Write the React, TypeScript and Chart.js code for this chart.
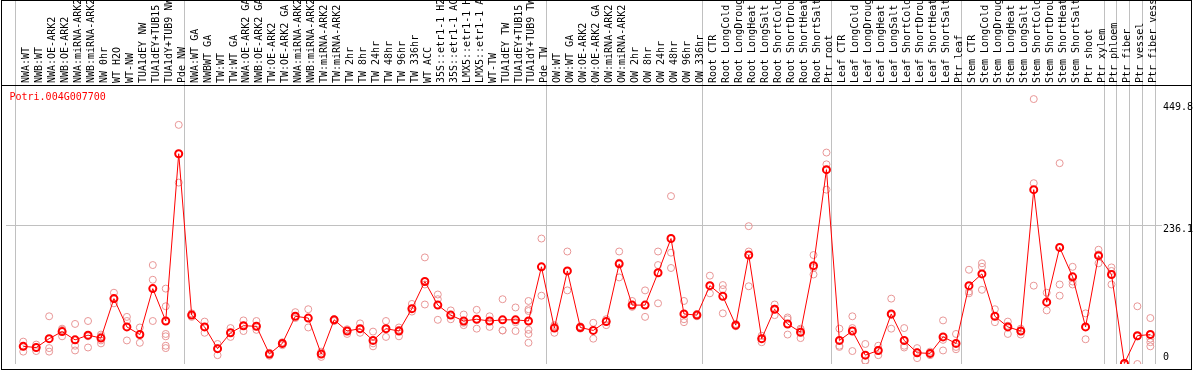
import { useEffect, useRef } from "react";
import { Chart, registerables } from "chart.js";

Chart.register(...registerables);

const geneName = "Potri.004G007700";

const categories = [
  "NWA:WT", "NWB:WT", "NWA:OE-ARK2", "NWB:OE-ARK2", "NWA:miRNA-ARK2", "NWB:miRNA-ARK2",
  "NW 0hr", "WT H2O", "WT-NW", "TUA1dEY NW", "TUA1dEY+TUB15 NW", "TUA1dY+TUB9 NW", "Pde NW",
  "NWA:WT GA", "NWBWT GA", "TW:WT", "TW:WT GA", "NWA:OE-ARK2 GA", "NWB:OE-ARK2 GA",
  "TW:OE-ARK2", "TW:OE-ARK2 GA", "NWA:miRNA-ARK2 GA", "NWB:miRNA-ARK2 GA", "TW:miRNA-ARK2",
  "TW:miRNA-ARK2 GA", "TW 2hr", "TW 8hr", "TW 24hr", "TW 48hr", "TW 96hr", "TW 336hr",
  "WT ACC", "35S::etr1-1 H2O", "35S::etr1-1 ACC", "LMX5::etr1-1 H2O", "LMX5::etr1-1 ACC",
  "WT-TW", "TUA1dEY TW", "TUA1dEY+TUB15 TW", "TUA1dY+TUB9 TW", "Pde TW",
  "OW:WT", "OW:WT GA", "OW:OE-ARK2", "OW:OE-ARK2 GA", "OW:miRNA-ARK2", "OW:miRNA-ARK2 GA",
  "OW 2hr", "OW 8hr", "OW 24hr", "OW 48hr", "OW 96hr", "OW 336hr",
  "Root CTR", "Root LongCold", "Root LongDrought", "Root LongHeat", "Root LongSalt",
  "Root ShortCold", "Root ShortDrought", "Root ShortHeat", "Root ShortSalt", "Ptr root",
  "Leaf CTR", "Leaf LongCold", "Leaf LongDrought", "Leaf LongHeat", "Leaf LongSalt",
  "Leaf ShortCold", "Leaf ShortDrought", "Leaf ShortHeat", "Leaf ShortSalt", "Ptr leaf",
  "Stem CTR", "Stem LongCold", "Stem LongDrought", "Stem LongHeat", "Stem LongSalt",
  "Stem ShortCold", "Stem ShortDrought", "Stem ShortHeat", "Stem ShortSalt", "Ptr shoot",
  "Ptr xylem", "Ptr phloem", "Ptr fiber", "Ptr vessel", "Ptr fiber vessel",
];

const means = [
  30, 28, 43, 55, 41, 49, 44, 111, 63, 50, 128, 73, 357,
  83, 63, 26, 53, 65, 64, 17, 35, 81, 78, 17, 75, 56, 60, 40, 60, 56, 94,
  140, 100, 83, 73, 76, 73, 75, 75, 73, 165,
  61, 158, 62, 57, 72, 170, 100, 100, 155, 213, 85, 83,
  133, 115, 66, 185, 43, 93, 68, 54, 167, 330,
  40, 56, 15, 23, 85, 40, 19, 18, 46, 35,
  133, 153, 81, 63, 56, 296, 105, 198, 148, 63, 184,
  152, 1, 48, 50,
];

const replicates: number[][] = [
  [38, 30, 21], [33, 28, 22], [81, 27, 21], [60, 47, 58], [68, 31, 23], [73, 28, 47],
  [50, 47, 40, 35], [121, 110, 103], [80, 73, 40], [62, 36, 50], [168, 143, 73],
  [128, 98, 51, 47, 31, 27], [406, 357, 308],
  [86, 83, 80], [72, 63, 53], [34, 27, 15], [61, 53, 46], [74, 65, 56], [73, 64, 58],
  [19, 17, 14], [37, 34, 32], [88, 81, 78], [93, 78, 62], [21, 17, 12], [76, 74, 73],
  [59, 56, 51], [69, 59, 53], [55, 35, 30], [73, 59, 46], [62, 58, 47], [102, 94, 89],
  [181, 135, 101], [118, 110, 75], [91, 83, 76], [84, 70, 66], [92, 76, 60],
  [81, 73, 63], [110, 57, 57], [96, 71, 56], [107, 93, 90, 72, 58, 51, 36], [213, 165, 116],
  [66, 64, 53], [191, 158, 125], [64, 62, 60], [70, 57, 43], [76, 72, 66], [191, 172, 147],
  [107, 100, 97], [125, 100, 80], [191, 168, 103], [285, 189, 163], [107, 76, 71], [85, 83, 81],
  [150, 133, 120], [134, 127, 86], [68, 66, 64], [234, 191, 132], [48, 43, 37],
  [101, 94, 83], [79, 76, 50], [60, 58, 44], [185, 163, 152], [359, 339, 296],
  [60, 31, 29], [81, 61, 22], [34, 6, 5], [31, 24, 15], [111, 83, 60],
  [61, 31, 28], [27, 20, 10], [21, 19, 15], [74, 41, 23], [51, 29, 25],
  [160, 123, 120], [171, 165, 126], [93, 81, 71], [72, 65, 51], [60, 56, 50],
  [449.8, 307, 133], [121, 105, 91], [341, 135, 116], [165, 140, 135], [86, 63, 42],
  [194, 186, 171], [164, 158, 135], [2, 1, 0], [98, 47, 0], [78, 43, 37, 30],
];

// index of the last category in each group (a separator follows it)
const groupEnds = [-1, 12, 40, 52, 62, 72, 83, 84, 85, 86, 87];
const yTickValues = [449.8, 236.1, 0];
const yTickLabels = ["449.8", "236.1", "0"];
const yGridValues = [236.1];

export default function App() {
  const ref = useRef<HTMLCanvasElement>(null);

  useEffect(() => {
    document.body.style.margin = "0";
    const canvas = ref.current;
    if (!canvas) return;
    const FONT = '10px "DejaVu Sans Mono", monospace';
    const SEP = 0.385;

    const decor = {
      id: "decor",
      beforeDatasetsDraw(chart: any) {
        const { ctx, chartArea, scales } = chart;
        const xs = scales.x;
        const ys = scales.y;
        ctx.save();
        ctx.strokeStyle = "#c0c0c0";
        ctx.lineWidth = 1;
        for (const v of yGridValues) {
          const py = Math.round(ys.getPixelForValue(v)) + 0.5;
          ctx.beginPath();
          ctx.moveTo(chartArea.left, py);
          ctx.lineTo(chartArea.right, py);
          ctx.stroke();
        }
        for (const g of groupEnds) {
          const px = Math.round(xs.getPixelForValue(g + SEP)) + 0.5;
          ctx.beginPath();
          ctx.moveTo(px, 0);
          ctx.lineTo(px, chartArea.bottom);
          ctx.stroke();
        }
        ctx.restore();
      },
      afterDraw(chart: any) {
        const { ctx, chartArea, scales } = chart;
        const xs = scales.x;
        const ys = scales.y;
        ctx.save();
        ctx.font = FONT;
        // category labels, rotated, reading upward
        ctx.fillStyle = "#000000";
        ctx.textAlign = "left";
        ctx.textBaseline = "alphabetic";
        categories.forEach((lab, i) => {
          const px = Math.round(xs.getPixelForValue(i)) + 5.5;
          ctx.save();
          ctx.translate(px, 83);
          ctx.rotate(-Math.PI / 2);
          ctx.fillText(lab, 0, 0);
          ctx.restore();
        });
        // y labels at right
        ctx.textBaseline = "middle";
        yTickValues.forEach((v, k) => {
          let cy = ys.getPixelForValue(v) + 4;
          cy = Math.max(cy, chartArea.top + 21);
          cy = Math.min(cy, chartArea.bottom - 7);
          ctx.fillText(yTickLabels[k], chartArea.right + 1, cy);
        });
        // gene name
        ctx.fillStyle = "#ff0000";
        ctx.fillText(geneName, 9.5, chartArea.top + 11.5);
        // frame
        ctx.strokeStyle = "#000000";
        ctx.lineWidth = 1;
        ctx.strokeRect(1.5, 0.5, 1190, 369);
        ctx.beginPath();
        ctx.moveTo(1.5, 85.5);
        ctx.lineTo(1191.5, 85.5);
        ctx.stroke();
        ctx.restore();
      },
    };

    const repPoints: { x: number; y: number }[] = [];
    replicates.forEach((arr, i) => arr.forEach((v) => repPoints.push({ x: i, y: v })));

    const chart = new Chart(canvas, {
      type: "line",
      data: {
        datasets: [
          {
            type: "line",
            label: "mean",
            data: means.map((v, i) => ({ x: i, y: v })),
            borderColor: "#ff0000",
            borderWidth: 1,
            pointRadius: 3.5,
            pointBorderWidth: 2,
            pointBorderColor: "#ff0000",
            pointBackgroundColor: "rgba(0,0,0,0)",
            tension: 0,
            order: 0,
          },
          {
            type: "scatter",
            label: "replicates",
            data: repPoints,
            borderColor: "#e89696",
            backgroundColor: "rgba(0,0,0,0)",
            pointRadius: 3.5,
            borderWidth: 1,
            showLine: false,
            order: 1,
          },
        ],
      } as any,
      options: {
        responsive: false,
        animation: false,
        devicePixelRatio: 1,
        events: [],
        layout: { padding: { left: 2, right: 32, top: 86, bottom: 1 } },
        scales: {
          x: { type: "linear", min: -1.331, max: 87.9, display: false },
          y: { type: "linear", min: 0, max: 472, display: false },
        },
        plugins: {
          legend: { display: false },
          tooltip: { enabled: false },
        },
      } as any,
      plugins: [decor],
    });

    return () => chart.destroy();
  }, []);

  return <canvas ref={ref} width={1194} height={370} style={{ display: "block" }} />;
}
